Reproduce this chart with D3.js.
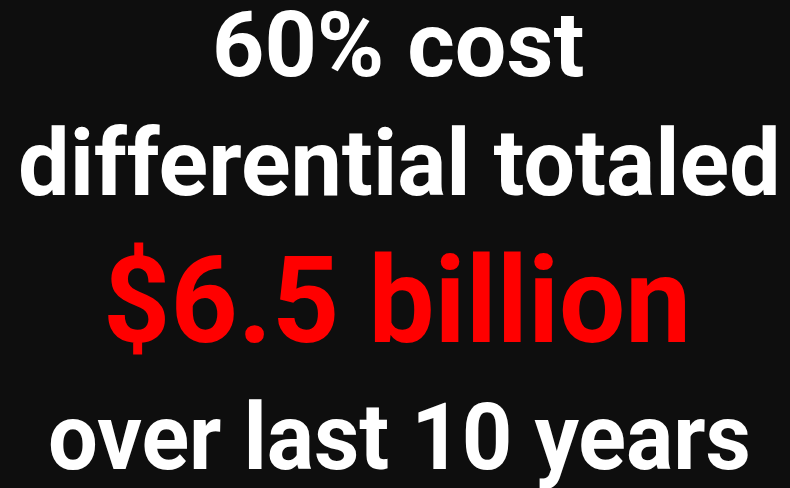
<!DOCTYPE html>
<html>
<head>
<meta charset="utf-8">
<script src="https://cdn.jsdelivr.net/npm/d3@7"></script>
<style>
  html, body { margin: 0; padding: 0; background: #0e0e0e; }
</style>
</head>
<body>
<div id="graph"></div>
<script>
// text of the slide, one entry per row
const lines = ["60% cost", "differential totaled", "$6.5 billion", "over last 10 years"];
const highlight = [false, false, true, false];

// layout per row: font size, ink left/right, baseline
const fontSizes = [90, 92, 120, 92];
const inkLeft = [216, 21, 108, 50];
const inkRight = [583, 776, 685, 748];
const baselines = [76, 195, 342, 469];

const width = 790, height = 488;
const font = "Roboto, 'Liberation Sans', sans-serif";

const svg = d3.select("#graph").append("svg")
    .attr("width", width).attr("height", height);

svg.append("rect").attr("width", width).attr("height", height).attr("fill", "#0e0e0e");

// measure ink so each row can be squeezed to the reference width
const ctx = document.createElement("canvas").getContext("2d");

lines.forEach((txt, i) => {
    ctx.font = `700 ${fontSizes[i]}px Roboto`;
    const m = ctx.measureText(txt);
    const inkW = m.actualBoundingBoxLeft + m.actualBoundingBoxRight;
    const sx = (inkRight[i] - inkLeft[i]) / inkW;

    svg.append("text")
        .attr("transform", `translate(${inkLeft[i]},${baselines[i]}) scale(${sx},1)`)
        .attr("x", m.actualBoundingBoxLeft)
        .attr("y", 0)
        .attr("font-family", font)
        .attr("font-weight", 700)
        .attr("font-size", fontSizes[i])
        .attr("fill", highlight[i] ? "#ff0000" : "#ffffff")
        .text(txt);
});
</script>
</body>
</html>
